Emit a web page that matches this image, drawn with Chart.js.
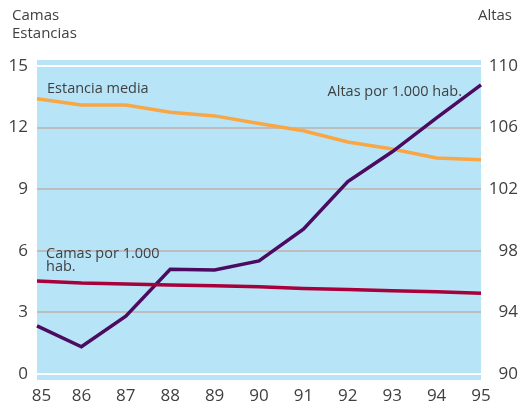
<!DOCTYPE html>
<html>
<head>
<meta charset="utf-8">
<script src="https://cdn.jsdelivr.net/npm/chart.js@4.4.0/dist/chart.umd.min.js"></script>
<style>
  body { margin: 0; background: #fff; }
  #wrap { width: 518px; height: 403px; }
</style>
</head>
<body>
<div id="wrap"><canvas id="canvas" width="518" height="403"></canvas></div>
<script>
  // años (eje x)
  var years = ['85','86','87','88','89','90','91','92','93','94','95'];
  // eje izquierdo: camas / estancias
  var estanciaMedia = [13.4, 13.1, 13.1, 12.75, 12.57, 12.2, 11.85, 11.3, 10.96, 10.52, 10.44];
  var camasPorMil   = [4.53, 4.43, 4.38, 4.34, 4.30, 4.25, 4.16, 4.11, 4.06, 4.0, 3.93];
  // eje derecho: altas
  var altasPorMil   = [93.12, 91.77, 93.75, 96.8, 96.75, 97.34, 99.4, 102.5, 104.43, 106.63, 108.77];

  var leftTicks = [0, 3, 6, 9, 12, 15];
  var rightTicks = [90, 94, 98, 102, 106, 110];

  var FONT = "'Open Sans', 'Liberation Sans', sans-serif";
  var TXT = '#404040';

  // fondo azul y textos
  const extras = {
    id: 'extras',
    beforeDraw(chart) {
      var a = chart.chartArea, c = chart.ctx;
      c.save();
      c.fillStyle = '#b8e4f8';
      c.fillRect(a.left, a.top - 6, a.right - a.left, a.bottom - a.top + 12);
      c.restore();
    },
    afterDraw(chart) {
      var c = chart.ctx, x = chart.scales.x, y = chart.scales.y;
      c.save();
      c.fillStyle = TXT;
      c.textBaseline = 'middle';
      c.font = '15px ' + FONT;
      c.textAlign = 'left';
      c.fillText('Camas', 12, 16);
      c.fillText('Estancias', 12, 34);
      c.textAlign = 'right';
      c.fillText('Altas', 512, 16);
      c.font = '14.5px ' + FONT;
      c.textAlign = 'left';
      c.fillText('Estancia media', x.getPixelForValue(0) + 10, y.getPixelForValue(13.9));
      c.fillText('Camas por 1.000', x.getPixelForValue(0) + 9, y.getPixelForValue(5.85));
      c.fillText('hab.', x.getPixelForValue(0) + 9, y.getPixelForValue(5.2));
      c.textAlign = 'right';
      c.fillText('Altas por 1.000 hab.', x.getPixelForValue(10) - 19, y.getPixelForValue(13.75));
      c.restore();
    }
  };

  const options = {
    responsive: false,
    animation: false,
    layout: { padding: { top: 66, left: 0, right: 0, bottom: 0 } },
    plugins: { legend: { display: false }, tooltip: { enabled: false } },
    elements: { point: { radius: 0 }, line: { tension: 0 } },
    scales: {
      x: {
        type: 'category',
        offset: false,
        grid: { display: false },
        border: { display: false },
        ticks: {
          color: TXT, font: { family: FONT, size: 17 }, padding: 4, maxRotation: 0, autoSkip: false,
          callback: function(v, i) { return i === 0 ? '  ' + years[i] : years[i]; }
        },
        afterFit(s) { s.height = 29; }
      },
      y: {
        position: 'left',
        min: 0, max: 15,
        afterBuildTicks(s) { s.ticks = leftTicks.map(v => ({ value: v })); },
        grid: {
          color: ctx => (ctx.tick.value === 0 || ctx.tick.value === 15) ? '#ffffff' : '#bdbdbd',
          lineWidth: 2,
          drawTicks: false
        },
        border: { display: false },
        ticks: { color: TXT, font: { family: FONT, size: 17 }, padding: 9 },
        afterFit(s) { s.width = 37; }
      },
      y2: {
        position: 'right',
        min: 90, max: 110,
        afterBuildTicks(s) { s.ticks = rightTicks.map(v => ({ value: v })); },
        grid: { display: false },
        border: { display: false },
        ticks: { color: TXT, font: { family: FONT, size: 17 }, crossAlign: 'far', padding: 6 },
        afterFit(s) { s.width = 37; }
      }
    }
  };

  const config = {
    type: 'line',
    data: {
      labels: years,
      datasets: [
        { label: 'Camas por 1.000 hab.', data: camasPorMil, yAxisID: 'y', borderColor: '#a8003a', borderWidth: 3.5 },
        { label: 'Altas por 1.000 hab.', data: altasPorMil, yAxisID: 'y2', borderColor: '#4b0b60', borderWidth: 3.5 },
        { label: 'Estancia media', data: estanciaMedia, yAxisID: 'y', borderColor: '#f9a645', borderWidth: 3.5 }
      ]
    },
    options: options,
    plugins: [extras]
  };

  var chart = new Chart(document.getElementById('canvas').getContext('2d'), config);
</script>
</body>
</html>
